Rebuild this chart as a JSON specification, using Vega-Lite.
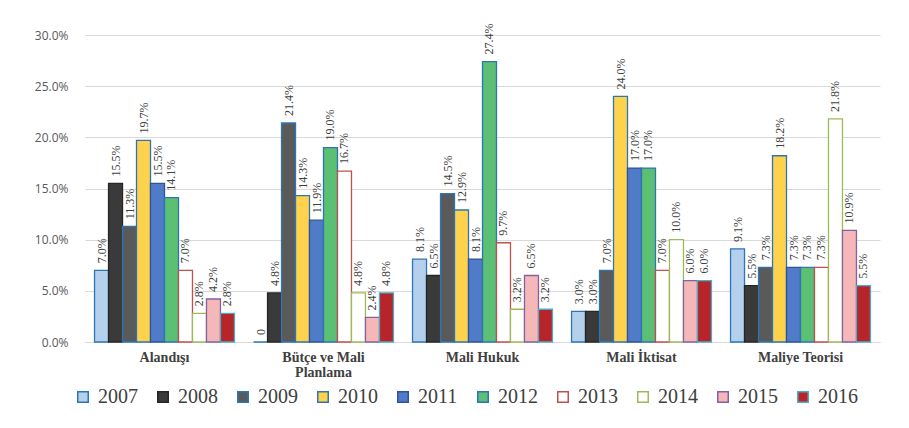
{
  "$schema": "https://vega.github.io/schema/vega-lite/v6.json",
  "width": 795,
  "height": 307,
  "autosize": "none",
  "padding": {"left": 85, "top": 35, "right": 29, "bottom": 86},
  "background": "white",
  "config": {"view": {"stroke": null}},
  "data": {
    "values": [
      {"cat": "Alandışı", "year": "2007", "v": 0.070},
      {"cat": "Alandışı", "year": "2008", "v": 0.155},
      {"cat": "Alandışı", "year": "2009", "v": 0.113},
      {"cat": "Alandışı", "year": "2010", "v": 0.197},
      {"cat": "Alandışı", "year": "2011", "v": 0.155},
      {"cat": "Alandışı", "year": "2012", "v": 0.141},
      {"cat": "Alandışı", "year": "2013", "v": 0.070},
      {"cat": "Alandışı", "year": "2014", "v": 0.028},
      {"cat": "Alandışı", "year": "2015", "v": 0.042},
      {"cat": "Alandışı", "year": "2016", "v": 0.028},
      {"cat": "Bütçe ve Mali Planlama", "year": "2007", "v": 0},
      {"cat": "Bütçe ve Mali Planlama", "year": "2008", "v": 0.048},
      {"cat": "Bütçe ve Mali Planlama", "year": "2009", "v": 0.214},
      {"cat": "Bütçe ve Mali Planlama", "year": "2010", "v": 0.143},
      {"cat": "Bütçe ve Mali Planlama", "year": "2011", "v": 0.119},
      {"cat": "Bütçe ve Mali Planlama", "year": "2012", "v": 0.190},
      {"cat": "Bütçe ve Mali Planlama", "year": "2013", "v": 0.167},
      {"cat": "Bütçe ve Mali Planlama", "year": "2014", "v": 0.048},
      {"cat": "Bütçe ve Mali Planlama", "year": "2015", "v": 0.024},
      {"cat": "Bütçe ve Mali Planlama", "year": "2016", "v": 0.048},
      {"cat": "Mali Hukuk", "year": "2007", "v": 0.081},
      {"cat": "Mali Hukuk", "year": "2008", "v": 0.065},
      {"cat": "Mali Hukuk", "year": "2009", "v": 0.145},
      {"cat": "Mali Hukuk", "year": "2010", "v": 0.129},
      {"cat": "Mali Hukuk", "year": "2011", "v": 0.081},
      {"cat": "Mali Hukuk", "year": "2012", "v": 0.274},
      {"cat": "Mali Hukuk", "year": "2013", "v": 0.097},
      {"cat": "Mali Hukuk", "year": "2014", "v": 0.032},
      {"cat": "Mali Hukuk", "year": "2015", "v": 0.065},
      {"cat": "Mali Hukuk", "year": "2016", "v": 0.032},
      {"cat": "Mali İktisat", "year": "2007", "v": 0.030},
      {"cat": "Mali İktisat", "year": "2008", "v": 0.030},
      {"cat": "Mali İktisat", "year": "2009", "v": 0.070},
      {"cat": "Mali İktisat", "year": "2010", "v": 0.240},
      {"cat": "Mali İktisat", "year": "2011", "v": 0.170},
      {"cat": "Mali İktisat", "year": "2012", "v": 0.170},
      {"cat": "Mali İktisat", "year": "2013", "v": 0.070},
      {"cat": "Mali İktisat", "year": "2014", "v": 0.100},
      {"cat": "Mali İktisat", "year": "2015", "v": 0.060},
      {"cat": "Mali İktisat", "year": "2016", "v": 0.060},
      {"cat": "Maliye Teorisi", "year": "2007", "v": 0.091},
      {"cat": "Maliye Teorisi", "year": "2008", "v": 0.055},
      {"cat": "Maliye Teorisi", "year": "2009", "v": 0.073},
      {"cat": "Maliye Teorisi", "year": "2010", "v": 0.182},
      {"cat": "Maliye Teorisi", "year": "2011", "v": 0.073},
      {"cat": "Maliye Teorisi", "year": "2012", "v": 0.073},
      {"cat": "Maliye Teorisi", "year": "2013", "v": 0.073},
      {"cat": "Maliye Teorisi", "year": "2014", "v": 0.218},
      {"cat": "Maliye Teorisi", "year": "2015", "v": 0.109},
      {"cat": "Maliye Teorisi", "year": "2016", "v": 0.055}
    ]
  },
  "encoding": {
    "x": {
      "field": "cat", "type": "nominal", "sort": null,
      "scale": {"paddingInner": 0.12, "paddingOuter": 0.06},
      "axis": {
        "title": null, "labelAngle": 0, "domain": true, "domainColor": "#D9D9D9", "ticks": false,
        "labelFont": "Liberation Serif", "labelFontWeight": "bold", "labelFontSize": 14,
        "labelColor": "#404040", "labelPadding": 8, "labelLimit": 300, "labelLineHeight": 15,
        "labelExpr": "datum.label == 'Bütçe ve Mali Planlama' ? ['Bütçe ve Mali', 'Planlama'] : datum.label"
      }
    },
    "xOffset": {"field": "year", "type": "nominal", "scale": {"paddingInner": 0, "paddingOuter": 0}},
    "y": {
      "field": "v", "type": "quantitative",
      "scale": {"domain": [0, 0.3]},
      "axis": {
        "title": null, "format": ".1%", "values": [0, 0.05, 0.1, 0.15, 0.2, 0.25, 0.3],
        "domain": false, "ticks": false, "labelPadding": 17,
        "labelFont": "Open Sans", "labelFontSize": 12, "labelColor": "#595959",
        "gridColor": "#D9D9D9", "gridWidth": 1.2
      }
    }
  },
  "layer": [
    {
      "mark": {"type": "bar", "strokeWidth": 1.3},
      "encoding": {
        "fill": {
          "field": "year", "type": "nominal",
          "scale": {"range": ["#B4D0EC", "#3A3A3A", "#5A5A5A", "#FFD24D", "#4F7BC8", "#5BBF74", "#FFFFFF", "#FFFFFF", "#F5B7B7", "#B7252A"]},
          "legend": {
            "title": null, "orient": "none", "legendX": -12, "legendY": 352,
            "direction": "horizontal", "columns": 10,
            "symbolType": "square", "symbolSize": 110, "symbolStrokeWidth": 1.5,
            "labelFont": "Liberation Serif", "labelFontSize": 20, "labelColor": "#404040",
            "labelOffset": 5, "columnPadding": 15
          }
        },
        "stroke": {
          "field": "year", "type": "nominal",
          "scale": {"range": ["#2E75B6", "#262626", "#2E75B6", "#2E75B6", "#2F5597", "#2E75B6", "#C0504D", "#9BBB59", "#8064A2", "#4BACC6"]},
          "legend": null
        }
      }
    },
    {
      "mark": {"type": "text", "angle": 270, "align": "left", "baseline": "middle", "dx": 7,
               "font": "Liberation Serif", "fontSize": 12, "color": "#404040"},
      "encoding": {
        "text": {"condition": {"test": "datum.v === 0", "value": "0"}, "field": "v", "type": "quantitative", "format": ".1%"}
      }
    }
  ]
}
